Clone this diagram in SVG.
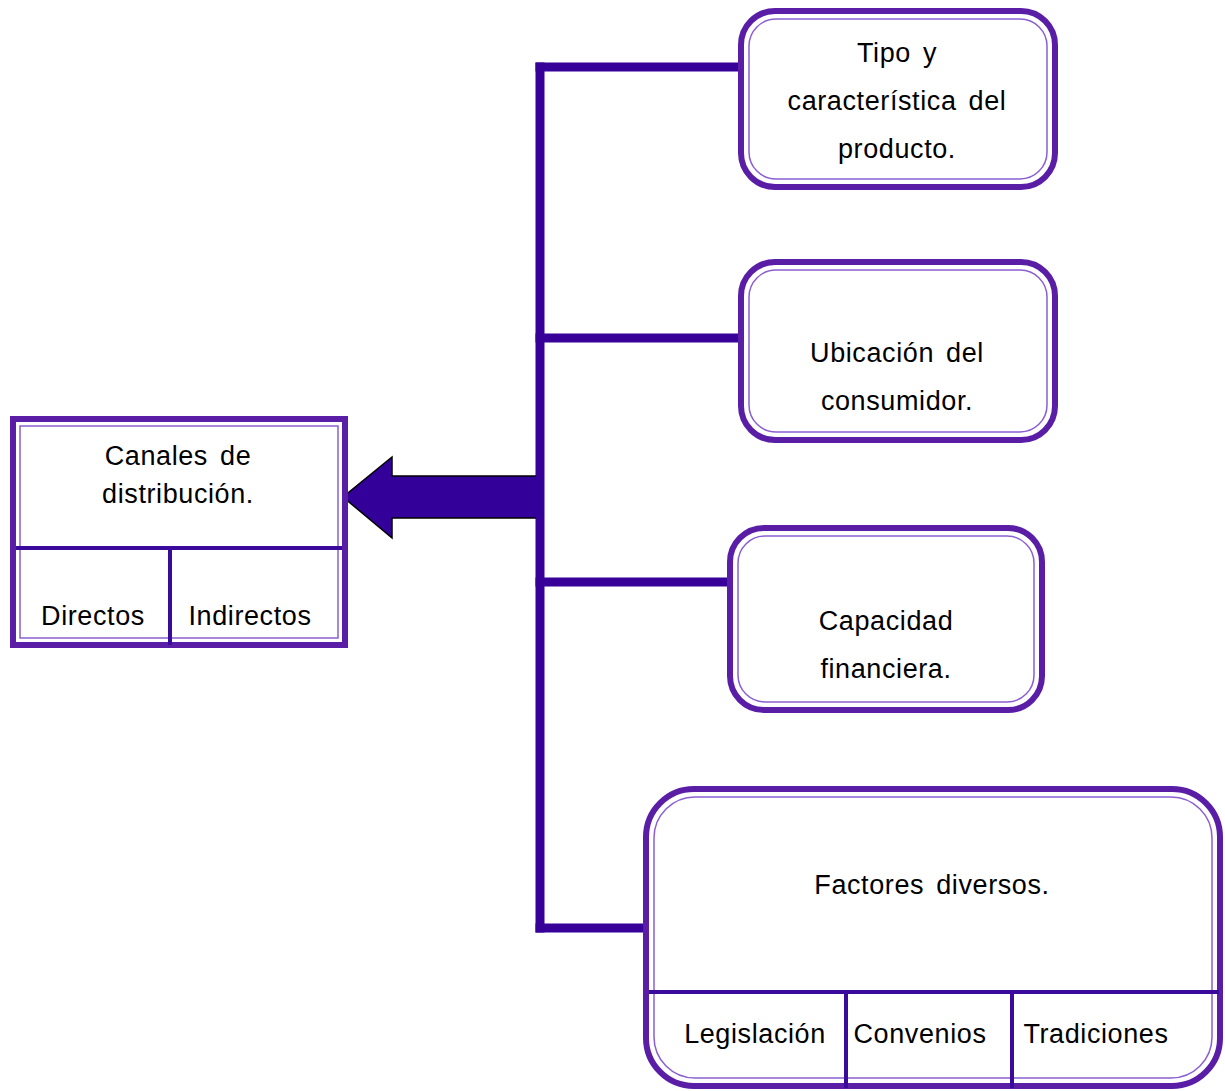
<svg xmlns="http://www.w3.org/2000/svg" width="1225" height="1091" viewBox="0 0 1225 1091">
  <style>
    .outer { fill: #ffffff; stroke: #5a1ea6; stroke-width: 6; }
    .inner { fill: none; stroke: #8a5fd2; stroke-width: 1.5; }
    .div { stroke: #3a0a9c; stroke-width: 4; fill: none; }
    .conn { stroke: #360099; stroke-width: 9; fill: none; stroke-linecap: square; }
    text { font-family: "Liberation Sans", Arial, sans-serif; font-size: 27px; fill: #000; letter-spacing: 0.6px; word-spacing: 4px; text-anchor: middle; }
  </style>

  <!-- connectors: trunk, branches and the block arrow -->
  <g id="connectors">
    <path class="conn" d="M540 67 V928"/>
    <path class="conn" d="M540 67 H738"/>
    <path class="conn" d="M540 338 H738"/>
    <path class="conn" d="M540 582 H727"/>
    <path class="conn" d="M540 928 H643"/>
    <polygon points="343,497 392,457 392,476 541,476 541,518 392,518 392,538" fill="#330099"/>
    <path d="M536 476 H392 V457 L343 497 L392 538 V518 H536" fill="none" stroke="#000" stroke-width="1.5"/>
  </g>

  <!-- main node with two sub-cells -->
  <g id="canales">
    <rect class="outer" x="13" y="419" width="332" height="226"/>
    <rect class="inner" x="20" y="426" width="318" height="212"/>
    <path class="div" d="M16 548 H342 M170 548 V645"/>
    <text x="178" y="465">Canales de</text>
    <text x="178" y="503">distribución.</text>
    <text x="93" y="625">Directos</text>
    <text x="250" y="625">Indirectos</text>
  </g>

  <g id="tipo">
    <rect class="outer" x="741" y="11" width="314" height="176" rx="34" ry="34"/>
    <rect class="inner" x="749" y="19" width="298" height="160" rx="27" ry="27"/>
    <text x="897" y="62">Tipo y</text>
    <text x="897" y="110">característica del</text>
    <text x="897" y="158">producto.</text>
  </g>

  <g id="ubicacion">
    <rect class="outer" x="741" y="262" width="314" height="178" rx="34" ry="34"/>
    <rect class="inner" x="749" y="270" width="298" height="162" rx="27" ry="27"/>
    <text x="897" y="362">Ubicación del</text>
    <text x="897" y="410">consumidor.</text>
  </g>

  <g id="capacidad">
    <rect class="outer" x="730" y="528" width="312" height="182" rx="34" ry="34"/>
    <rect class="inner" x="738" y="536" width="296" height="166" rx="27" ry="27"/>
    <text x="886" y="630">Capacidad</text>
    <text x="886" y="678">financiera.</text>
  </g>

  <!-- factors node with three sub-cells -->
  <g id="factores">
    <rect class="outer" x="646" y="789" width="574" height="297" rx="48" ry="48"/>
    <rect class="inner" x="654" y="797" width="558" height="281" rx="41" ry="41"/>
    <path class="div" d="M649 992 H1219 M846 992 V1088 M1012 992 V1088"/>
    <text x="932" y="894">Factores diversos.</text>
    <text x="755" y="1043">Legislación</text>
    <text x="920" y="1043">Convenios</text>
    <text x="1096" y="1043">Tradiciones</text>
  </g>
</svg>
